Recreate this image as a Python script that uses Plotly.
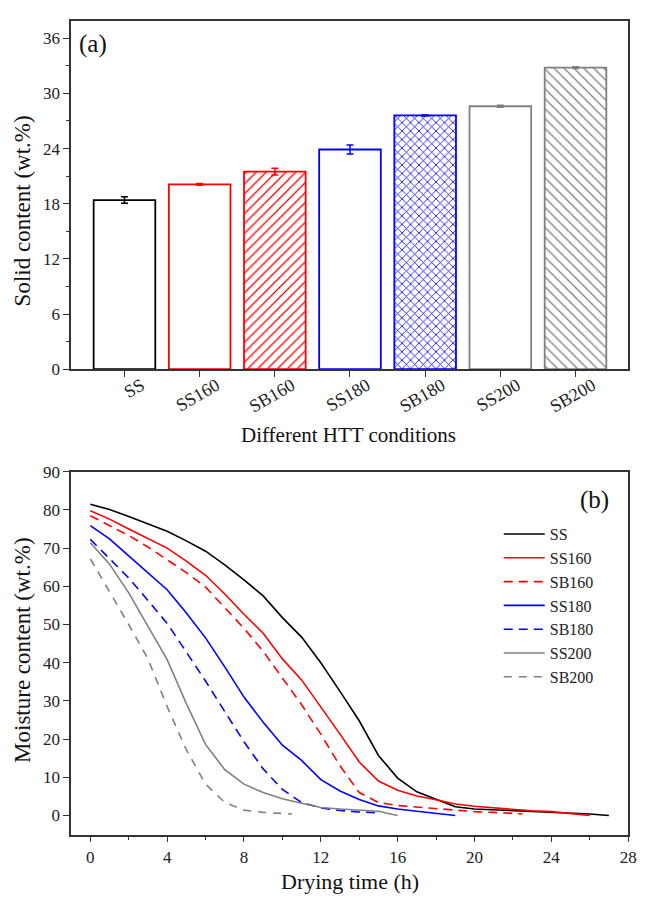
import plotly.graph_objects as go

# ---------------- data ----------------
categories = ["SS", "SS160", "SB160", "SS180", "SB180", "SS200", "SB200"]
solid_content = [18.4, 20.1, 21.5, 23.9, 27.6, 28.6, 32.8]
solid_error = [0.35, 0.1, 0.37, 0.5, 0.05, 0.1, 0.1]
bar_colors = ["#000000", "#FF0000", "#FF0000", "#0000FF", "#0000FF", "#808080", "#808080"]
bar_patterns = ["", "", "/", "", "x", "", "\\"]

t_SS = [0, 1, 2, 3, 4, 5, 6, 7, 8, 9, 10, 11, 12, 13, 14, 15, 16, 17, 18, 19, 20, 21, 22, 23, 24, 25, 26, 27]
m_SS = [81.5, 80.1, 78.3, 76.4, 74.4, 71.9, 69.2, 65.6, 61.7, 57.5, 51.8, 46.7, 40.0, 32.5, 24.8, 15.7, 9.8, 6.2,
        4.3, 2.3, 1.7, 1.5, 1.3, 1.1, 0.9, 0.7, 0.4, 0.0]
t_SS160 = [0, 1, 2, 3, 4, 5, 6, 7, 8, 9, 10, 11, 12, 13, 14, 15, 16, 17, 18, 19, 20, 21, 22, 23, 24, 25, 26]
m_SS160 = [79.8, 77.6, 75.0, 72.5, 70.0, 66.6, 62.9, 58.0, 52.7, 47.7, 41.0, 35.5, 28.5, 21.3, 14.0, 9.0, 6.6, 5.1,
           4.1, 3.0, 2.4, 2.0, 1.5, 1.2, 1.0, 0.5, 0.0]
t_SB160 = [0, 1, 2, 3, 4, 5, 6, 7, 8, 9, 10, 11, 12, 13, 14, 15, 16, 17, 18, 19, 20, 21, 22, 22.5]
m_SB160 = [78.5, 76.0, 73.3, 70.3, 67.0, 63.6, 59.8, 54.3, 49.0, 43.0, 36.0, 29.0, 21.3, 13.0, 6.0, 3.4, 2.6, 2.2,
           1.8, 1.3, 1.0, 0.8, 0.6, 0.4]
t_SS180 = [0, 1, 2, 3, 4, 5, 6, 7, 8, 9, 10, 11, 12, 13, 14, 15, 16, 17, 18, 19]
m_SS180 = [75.9, 72.4, 68.0, 63.6, 59.1, 53.0, 46.5, 38.9, 31.0, 24.4, 18.4, 14.4, 9.4, 6.4, 4.2, 2.5, 1.7, 1.1,
           0.6, 0.0]
t_SB180 = [0, 1, 2, 3, 4, 5, 6, 7, 8, 9, 10, 11, 12, 13, 14, 15]
m_SB180 = [72.3, 67.2, 62.2, 56.3, 50.3, 42.8, 35.2, 27.2, 19.3, 12.2, 6.8, 3.4, 2.0, 1.3, 0.9, 0.7]
t_SS200 = [0, 1, 2, 3, 4, 5, 6, 7, 8, 9, 10, 11, 12, 13, 14, 15, 16]
m_SS200 = [71.4, 65.8, 58.3, 49.5, 40.8, 29.3, 18.6, 12.0, 8.2, 6.0, 4.4, 3.2, 2.1, 1.7, 1.4, 1.1, 0.0]
t_SB200 = [0, 1, 2, 3, 4, 5, 6, 7, 8, 9, 10, 10.5]
m_SB200 = [67.2, 58.6, 50.0, 41.0, 28.5, 17.2, 8.2, 3.4, 1.4, 0.8, 0.5, 0.4]

series = [
    ("SS", t_SS, m_SS, "#000000", "solid"),
    ("SS160", t_SS160, m_SS160, "#FF0000", "solid"),
    ("SB160", t_SB160, m_SB160, "#FF0000", "9px,6px"),
    ("SS180", t_SS180, m_SS180, "#0000FF", "solid"),
    ("SB180", t_SB180, m_SB180, "#0000FF", "9px,6px"),
    ("SS200", t_SS200, m_SS200, "#808080", "solid"),
    ("SB200", t_SB200, m_SB200, "#808080", "8px,7px"),
]

FONT = "Liberation Serif, Times New Roman, serif"
W, H = 646, 903

fig = go.Figure()

# ---------------- panel (a): bars ----------------
for cat, val, err, col, pat in zip(categories, solid_content, solid_error, bar_colors, bar_patterns):
    fig.add_trace(go.Bar(
        x=[cat], y=[val], width=0.82,
        marker=dict(color="white", line=dict(color=col, width=1.8),
                    pattern=dict(shape=pat, fgcolor=col, bgcolor="white",
                                 size=6 if pat == "x" else 7,
                                 solidity=0.25 if pat == "x" else 0.18, fillmode="replace")),
        error_y=dict(type="data", array=[err], color=col, thickness=1.5, width=3.5),
        showlegend=False, xaxis="x", yaxis="y", hoverinfo="skip"))

# ---------------- panel (b): lines ----------------
for name, t, m, col, dash in series:
    fig.add_trace(go.Scatter(
        x=t, y=m, mode="lines", name=name,
        line=dict(color=col, width=1.6, dash=dash),
        xaxis="x2", yaxis="y2"))

axis_common = dict(showline=True, linecolor="#333333", linewidth=1.5, mirror=True,
                   ticks="outside", ticklen=6, tickwidth=1.3, tickcolor="#333333",
                   showgrid=False, zeroline=False)
tickfont = dict(family=FONT, size=17, color="#222222")

x0, x1 = 72 / W, 636 / W
fig.update_layout(
    width=W, height=H,
    margin=dict(l=0, r=0, t=0, b=0),
    paper_bgcolor="white", plot_bgcolor="white",
    barmode="overlay",
    font=dict(family=FONT, color="#222222"),
    xaxis=dict(domain=[x0, x1], anchor="y", type="category",
               categoryorder="array", categoryarray=categories,
               range=[-0.71, 6.7], tickangle=-30,
               ticklabelshift=17, ticklabelstandoff=-9,
               tickfont=dict(family=FONT, size=18, color="#222222"), **axis_common),
    yaxis=dict(domain=[1 - 368 / H, 1 - 12 / H], anchor="x",
               range=[0, 37.9], tick0=0, dtick=6, tickfont=tickfont,
               minor=dict(dtick=3, ticks="outside", ticklen=3.5, tickwidth=1.2, tickcolor="#333333"),
               **axis_common),
    xaxis2=dict(domain=[x0, x1], anchor="y2", range=[-1, 28], tick0=0, dtick=4, tickfont=tickfont,
                minor=dict(dtick=2, ticks="outside", ticklen=3.5, tickwidth=1.2, tickcolor="#333333"),
                **axis_common),
    yaxis2=dict(domain=[1 - 843.3 / H, 1 - 472.7 / H], anchor="x2",
                range=[-5, 90], tick0=0, dtick=10, tickfont=tickfont, **axis_common),
    legend=dict(x=505 / W, y=1 - 519 / H, xanchor="left", yanchor="top",
                bgcolor="rgba(0,0,0,0)", borderwidth=0,
                font=dict(family=FONT, size=16, color="#222222"),
                itemwidth=41, tracegroupgap=0),
)

ann = [
    dict(text="Solid content (wt.%)", x=23 / W, y=1 - 206 / H, textangle=-90, size=23),
    dict(text="Different HTT conditions", x=353 / W, y=1 - 435 / H, textangle=0, size=21),
    dict(text="Moisture content (wt.%)", x=23 / W, y=1 - 655 / H, textangle=-90, size=23),
    dict(text="Drying time (h)", x=354 / W, y=1 - 891 / H, textangle=0, size=22),
    dict(text="(a)", x=94 / W, y=1 - 36 / H, textangle=0, size=25),
    dict(text="(b)", x=602 / W, y=1 - 502 / H, textangle=0, size=25),
]
for a in ann:
    fig.add_annotation(text=a["text"], x=a["x"], y=a["y"], xref="paper", yref="paper",
                       xanchor="center", yanchor="middle", showarrow=False,
                       textangle=a["textangle"],
                       font=dict(family=FONT, size=a["size"], color="#111111"))

fig.write_html("out.html")
